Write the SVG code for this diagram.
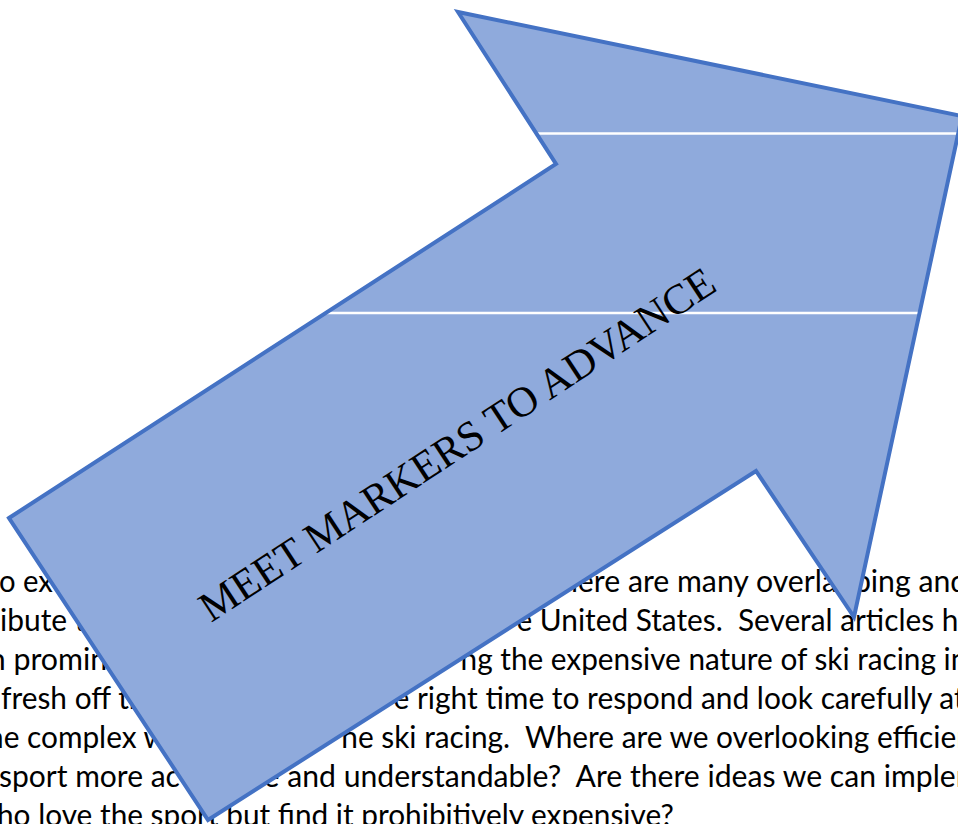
<svg xmlns="http://www.w3.org/2000/svg" width="958" height="824" viewBox="0 0 958 824">
<style>
.doc { font-family: Lato, "Open Sans", "Liberation Sans", sans-serif; font-size: 30.5px; fill: #000000; white-space: pre; }
.arrow-fill { fill: #8FAADC; stroke: none; }
.arrow-stroke { fill: none; stroke: #4472C4; stroke-width: 4; stroke-linejoin: miter; stroke-miterlimit: 10; }
.rule { stroke: #FFFFFF; stroke-width: 2.5; }
.label { font-family: "Liberation Serif", "Times New Roman", serif; font-size: 42.5px; fill: #000000; }
</style>
<rect width="958" height="824" fill="#FFFFFF"/>
<g id="document-text">
  <text class="doc" x="625" y="553">.</text>
  <text class="doc" x="-1" y="592" textLength="53.9" lengthAdjust="spacingAndGlyphs">o ex</text>
  <text class="doc" x="561" y="592" textLength="406.2" lengthAdjust="spacingAndGlyphs">here are many overlapping and</text>
  <text class="doc" x="0" y="631" textLength="85.5" lengthAdjust="spacingAndGlyphs">ibute t</text>
  <text class="doc" x="516.5" y="631" textLength="456.6" lengthAdjust="spacingAndGlyphs" xml:space="preserve">e United States.  Several articles ha</text>
  <text class="doc" x="-11.3" y="670" textLength="118.6" lengthAdjust="spacingAndGlyphs">n promin</text>
  <text class="doc" x="460.6" y="670" textLength="506.7" lengthAdjust="spacingAndGlyphs">ng the expensive nature of ski racing in</text>
  <text class="doc" x="1" y="709" textLength="144.5" lengthAdjust="spacingAndGlyphs">fresh off th</text>
  <text class="doc" x="393.5" y="709" textLength="571.2" lengthAdjust="spacingAndGlyphs">e right time to respond and look carefully at</text>
  <text class="doc" x="-13" y="748" textLength="180" lengthAdjust="spacingAndGlyphs">ne complex w</text>
  <text class="doc" x="341.3" y="748" textLength="631.5" lengthAdjust="spacingAndGlyphs" xml:space="preserve">ne ski racing.  Where are we overlooking efficien</text>
  <text class="doc" x="-1" y="787" textLength="180.9" lengthAdjust="spacingAndGlyphs">sport more ac</text>
  <text class="doc" x="263.6" y="787" textLength="716.9" lengthAdjust="spacingAndGlyphs" xml:space="preserve">e and understandable?  Are there ideas we can implem</text>
  <text class="doc" x="-3" y="826" textLength="676.8" lengthAdjust="spacingAndGlyphs">ho love the sport but find it prohibitively expensive?</text>
</g>
<g id="arrow">
  <polygon class="arrow-fill" points="9,518 556,164 458,12 962,116 854,617 756,471 208,820"/>
  <line class="rule" x1="533" y1="133.5" x2="957" y2="133.5"/>
  <line class="rule" x1="322" y1="313" x2="920" y2="313"/>
  <polygon class="arrow-stroke" points="9,518 556,164 458,12 962,116 854,617 756,471 208,820"/>
  <text class="label" transform="translate(211,623) rotate(-33.3)">MEET MARKERS TO ADVANCE</text>
</g>
</svg>
